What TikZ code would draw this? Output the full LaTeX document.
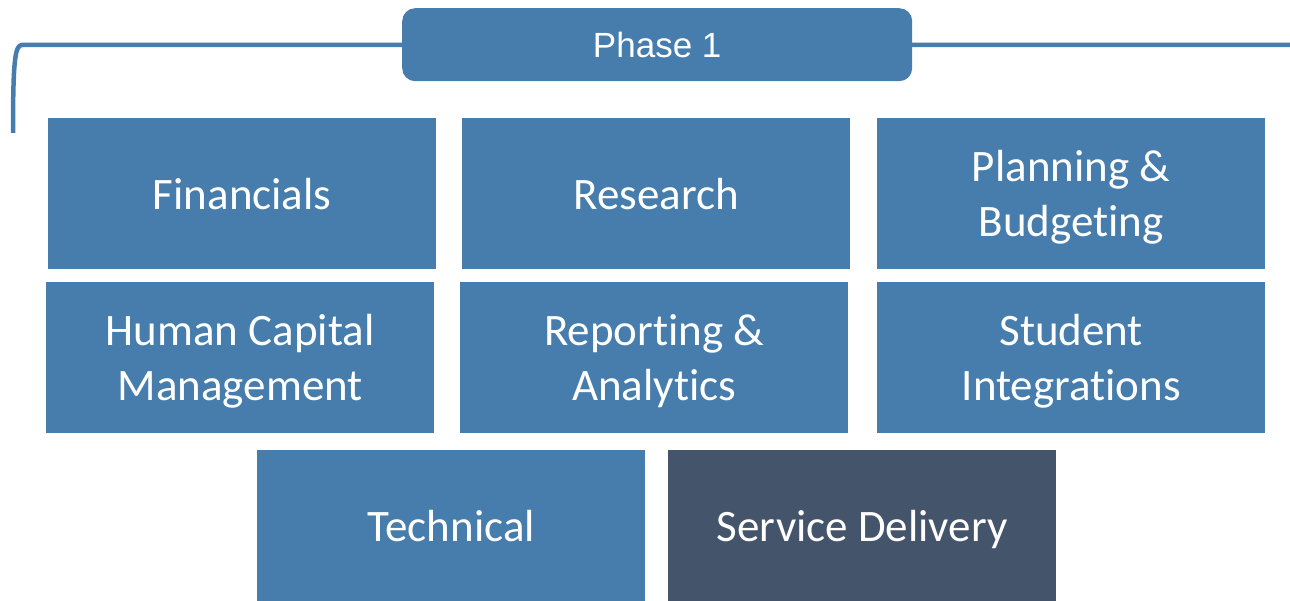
\documentclass[tikz,border=0pt]{standalone}
\usepackage{fontspec}
\setmainfont{Carlito}[Ligatures={NoCommon}]
\newfontfamily\arialfont{Liberation Sans}
\definecolor{boxblue}{HTML}{477DAD}
\definecolor{boxdark}{HTML}{44546A}
\begin{document}
\begin{tikzpicture}[x=1pt,y=-1pt,
  tile/.style={draw=none,fill=boxblue,anchor=north west,minimum width=388pt,minimum height=151pt,
    inner sep=0pt,align=center,text=white,font=\fontsize{45}{55}\selectfont},
  oneline/.style={text height=31pt,text depth=0pt},
  twoline/.style={text height=85pt,text depth=0pt},
  darktile/.style={tile,fill=boxdark},
  phasebox/.style={draw=none,fill=boxblue,rounded corners=13pt,anchor=north west,minimum width=510pt,
    minimum height=73pt,inner sep=0pt,text=white,font=\arialfont\fontsize{35}{40}\selectfont},
  bracket/.style={draw=boxblue,line width=4.5pt}]
\useasboundingbox (0,0) rectangle (1290,601);
\coordinate (rend) at (1292,45);
\coordinate (lend) at (13,133);
\draw[bracket] (rend) -- (22,45) .. controls (15,45) and (13,60) .. (lend);
\node[phasebox] (phase) at (402,8) {Phase 1};
\node[tile,oneline] (fin) at (48,118) {Financials};
\node[tile,oneline] (res) at (462,118) {Research};
\node[tile,twoline] (plan) at (877,118) {Planning \&\\Budgeting};
\node[tile,twoline] (hcm) at (46,282) {Human Capital\\Management};
\node[tile,twoline] (rep) at (460,282) {Reporting \&\\Analytics};
\node[tile,twoline] (stu) at (877,282) {Student\\Integrations};
\node[tile,oneline] (tech) at (257,450) {Technical};
\node[darktile,oneline] (serv) at (668,450) {Service Delivery};
\end{tikzpicture}
\end{document}
